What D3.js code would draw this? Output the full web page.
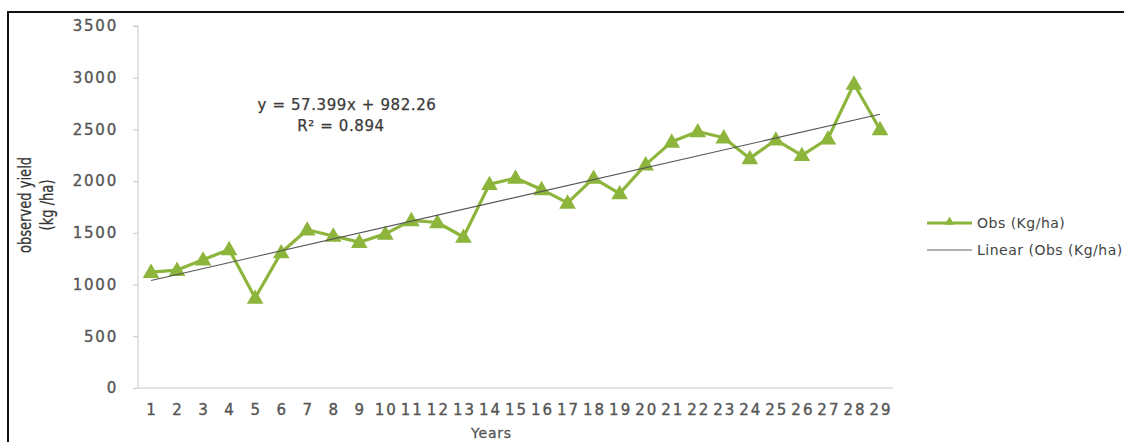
<!DOCTYPE html>
<html>
<head>
<meta charset="utf-8">
<script src="https://cdn.jsdelivr.net/npm/d3@7"></script>
<style>
  body { margin: 0; background: #fff; }
  svg { display: block; }
</style>
</head>
<body>
<div id="chart"></div>
<script>
"use strict";

// observed yield per year
var years = d3.range(1, 30);
var obs = [1120, 1140, 1240, 1340, 870, 1310, 1530, 1470, 1410, 1490,
           1620, 1600, 1460, 1970, 2030, 1920, 1790, 2030, 1880, 2160,
           2380, 2480, 2420, 2220, 2400, 2250, 2410, 2940, 2500];
var yTicks = [0, 500, 1000, 1500, 2000, 2500, 3000, 3500];
var slope = 57.399, intercept = 982.26, r2 = 0.894;
var seriesNames = ["Obs (Kg/ha)", "Linear (Obs (Kg/ha)"];

var width = 1125, height = 442;
var green = "#8db53c";
var tickFont = "DejaVu Sans, Verdana, sans-serif";

var margin = {left: 138, right: 232, top: 26, bottom: 54};

var svg = d3.select("#chart").append("svg")
  .attr("width", width)
  .attr("height", height);

// outer frame (top + left edges visible)
svg.append("path")
  .attr("d", "M8,442 V12 H1124")
  .attr("fill", "none")
  .attr("stroke", "#111")
  .attr("stroke-width", 2);

var x = d3.scaleBand()
  .domain(years)
  .range([margin.left, width - margin.right]);

var y = d3.scaleLinear()
  .domain([0, 3500])
  .range([height - margin.bottom, margin.top]);

var cx = function(d) { return x(d) + x.bandwidth() / 2; };

// y axis
var yAxis = svg.append("g")
  .attr("transform", "translate(" + margin.left + ",0)")
  .call(d3.axisLeft(y).tickValues(yTicks).tickFormat(d3.format("d")).tickSize(5).tickPadding(15));
yAxis.select(".domain").attr("stroke", "#c8c8c8").attr("d", "M-5," + y(3500) + "H0V" + y(0));
yAxis.selectAll(".tick line").attr("stroke", "#c8c8c8");
yAxis.selectAll("text")
  .attr("font-family", tickFont)
  .attr("font-size", 15)
  .attr("letter-spacing", "1.8px")
  .attr("fill", "#555")
  .attr("stroke", "#555")
  .attr("stroke-width", 0.35);

// x axis
var xAxis = svg.append("g")
  .attr("transform", "translate(0," + y(0) + ")")
  .call(d3.axisBottom(x).tickSize(0).tickPadding(16));
xAxis.select(".domain").attr("stroke", "#c8c8c8").attr("d", "M" + margin.left + ",0H" + (width - margin.right));
xAxis.selectAll("text")
  .attr("font-family", tickFont)
  .attr("font-size", 15)
  .attr("letter-spacing", "2px")
  .attr("dx", "1px")
  .attr("fill", "#555")
  .attr("stroke", "#555")
  .attr("stroke-width", 0.35);

// axis titles
svg.append("text")
  .attr("x", cx(14) + 2)
  .attr("y", 438)
  .attr("text-anchor", "middle")
  .attr("font-family", tickFont)
  .attr("font-size", 14)
  .attr("letter-spacing", "0.8px")
  .attr("fill", "#555")
  .attr("stroke", "#555")
  .attr("stroke-width", 0.3)
  .text("Years");

var yTitle = svg.append("text")
  .attr("transform", "translate(31,205) rotate(-90) scale(0.97,1.12)")
  .attr("text-anchor", "middle")
  .attr("font-family", "Liberation Sans Narrow, DejaVu Sans Condensed, Arial Narrow, sans-serif")
  .attr("font-size", 15)
  .attr("fill", "#333")
  .attr("stroke", "#333")
  .attr("stroke-width", 0.2);
yTitle.append("tspan").attr("x", 0).attr("dy", 0).text("observed yield");
yTitle.append("tspan").attr("x", 0).attr("dy", 19.5).text("(kg /ha)");

// trend line from the fitted equation
var trend = [years[0], years[years.length - 1]].map(function(d) {
  return {year: d, value: intercept + slope * d};
});

// observed series
var line = d3.line()
  .x(function(d) { return cx(d.year); })
  .y(function(d) { return y(d.value); });

var pts = years.map(function(d, i) { return {year: d, value: obs[i]}; });

svg.append("path")
  .datum(pts)
  .attr("fill", "none")
  .attr("stroke", green)
  .attr("stroke-width", 3.2)
  .attr("stroke-linejoin", "round")
  .attr("d", line);

var tri = d3.symbol().type(d3.symbolTriangle).size(120);
svg.append("g")
  .selectAll("path")
  .data(pts)
  .enter().append("path")
  .attr("d", tri)
  .attr("fill", green)
  .attr("transform", function(d) {
    return "translate(" + cx(d.year) + "," + (y(d.value) + 1) + ")";
  });

svg.append("path")
  .datum(trend)
  .attr("fill", "none")
  .attr("stroke", "#555")
  .attr("stroke-width", 1.1)
  .attr("d", line);

// equation label
var eq = svg.append("text")
  .attr("text-anchor", "middle")
  .attr("font-family", tickFont)
  .attr("font-size", 15)
  .attr("letter-spacing", "0.6px")
  .attr("fill", "#3a3a3a")
  .attr("stroke", "#3a3a3a")
  .attr("stroke-width", 0.25);
eq.append("tspan").attr("x", 347).attr("y", 110)
  .text("y = " + slope + "x + " + intercept);
eq.append("tspan").attr("x", 341).attr("y", 131)
  .text("R\u00b2 = " + r2);

// legend
var legend = svg.append("g")
  .attr("font-family", tickFont)
  .attr("font-size", 14)
  .attr("letter-spacing", "0.5px")
  .attr("fill", "#444");

legend.append("line")
  .attr("x1", 927).attr("x2", 972)
  .attr("y1", 223).attr("y2", 223)
  .attr("stroke", green).attr("stroke-width", 3);
legend.append("path")
  .attr("d", d3.symbol().type(d3.symbolTriangle).size(40))
  .attr("fill", green)
  .attr("transform", "translate(949.5,222)");
legend.append("text")
  .attr("x", 977).attr("y", 228)
  .text(seriesNames[0]);

legend.append("line")
  .attr("x1", 927).attr("x2", 972)
  .attr("y1", 250).attr("y2", 250)
  .attr("stroke", "#999").attr("stroke-width", 1.5);
legend.append("text")
  .attr("x", 977).attr("y", 255)
  .text(seriesNames[1]);
</script>
</body>
</html>
